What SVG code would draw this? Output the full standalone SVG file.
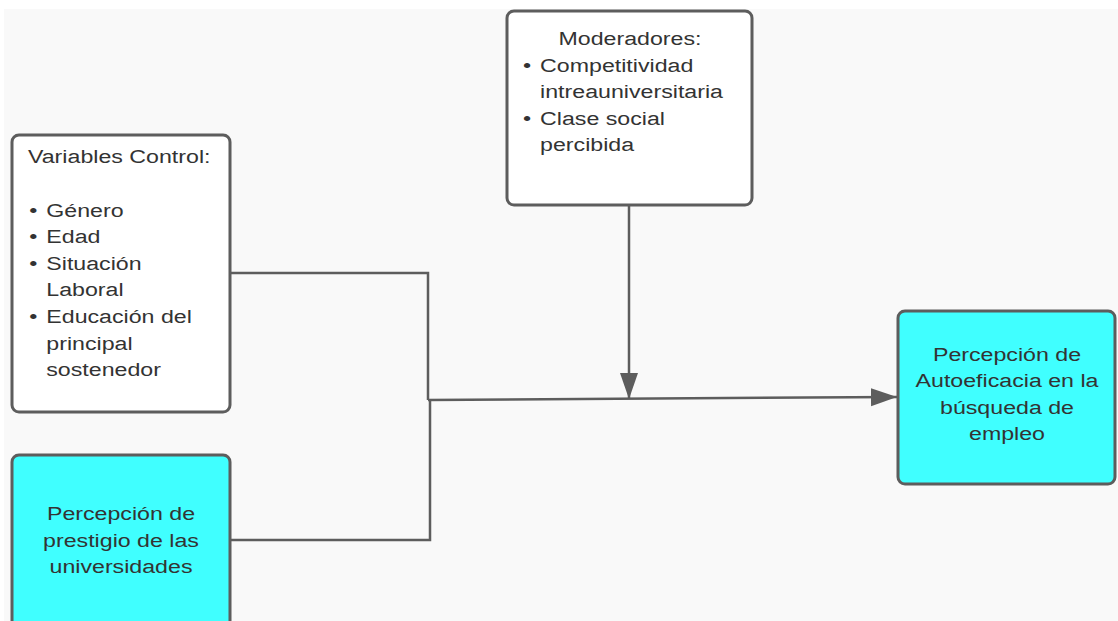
<svg xmlns="http://www.w3.org/2000/svg" width="1118" height="621" viewBox="0 0 1118 621">
<defs>
<style>
.box{stroke:#5d5d5d;stroke-width:3;}
.white{fill:#ffffff;}
.cyan{fill:#40ffff;}
.t{font-family:"Liberation Sans",Arial,sans-serif;font-size:19px;fill:#333333;}
.c{text-anchor:middle;}
.conn{fill:none;stroke:#5d5d5d;stroke-width:2.5;}
</style>
<marker id="arr" markerUnits="userSpaceOnUse" markerWidth="28" markerHeight="20" refX="26" refY="10" orient="auto">
<path d="M0,1 L26,10 L0,19 Z" fill="#5d5d5d"/>
</marker>
</defs>
<rect x="0" y="0" width="1118" height="621" fill="#ffffff"/>
<rect x="4" y="9" width="1114" height="612" fill="#f9f9f9"/>

<g id="connectors">
<path class="conn" d="M230 273 H428 V400"/>
<path class="conn" d="M230 540 H430 V400"/>
<path class="conn" d="M428 400 L897 397" marker-end="url(#arr)" stroke-width="3"/>
<path class="conn" d="M629 206 V399" marker-end="url(#arr)"/>
</g>

<g id="variables-control">
<rect class="box white" x="12" y="135" width="218" height="277" rx="7"/>
<g transform="translate(28 0) scale(1.22 1)">
<text class="t" x="0" y="163">Variables Control:</text>
<text class="t" x="1" y="217">•</text><text class="t" x="15" y="217">Género</text>
<text class="t" x="1" y="243">•</text><text class="t" x="15" y="243">Edad</text>
<text class="t" x="1" y="270">•</text><text class="t" x="15" y="270">Situación</text>
<text class="t" x="15" y="296">Laboral</text>
<text class="t" x="1" y="323">•</text><text class="t" x="15" y="323">Educación del</text>
<text class="t" x="15" y="350">principal</text>
<text class="t" x="15" y="376">sostenedor</text>
</g>
</g>

<g id="moderadores">
<rect class="box white" x="507" y="11" width="245" height="194" rx="7"/>
<g transform="translate(630 0) scale(1.22 1)">
<text class="t c" x="0" y="45">Moderadores:</text>
</g>
<g transform="translate(523 0) scale(1.22 1)">
<text class="t" x="0" y="72">•</text><text class="t" x="14" y="72">Competitividad</text>
<text class="t" x="14" y="98">intreauniversitaria</text>
<text class="t" x="0" y="125">•</text><text class="t" x="14" y="125">Clase social</text>
<text class="t" x="14" y="151">percibida</text>
</g>
</g>

<g id="prestigio">
<rect class="box cyan" x="12" y="455" width="218" height="190" rx="7"/>
<g transform="translate(121 0) scale(1.22 1)">
<text class="t c" x="0" y="520">Percepción de</text>
<text class="t c" x="0" y="547">prestigio de las</text>
<text class="t c" x="0" y="573">universidades</text>
</g>
</g>

<g id="autoeficacia">
<rect class="box cyan" x="898" y="311" width="217" height="173" rx="7"/>
<g transform="translate(1007 0) scale(1.22 1)">
<text class="t c" x="0" y="361">Percepción de</text>
<text class="t c" x="0" y="387">Autoeficacia en la</text>
<text class="t c" x="0" y="414">búsqueda de</text>
<text class="t c" x="0" y="440">empleo</text>
</g>
</g>
</svg>
